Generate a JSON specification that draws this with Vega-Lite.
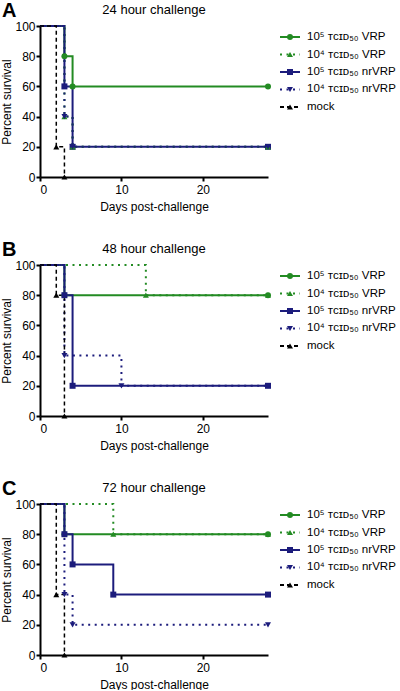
{
  "$schema": "https://vega.github.io/schema/vega-lite/v6.json",
  "padding": {"left": 0, "top": 1, "right": 0, "bottom": 0},
  "background": "white",
  "config": {
    "font": "Liberation Sans",
    "view": {"stroke": null},
    "axis": {"domainColor": "black", "domainWidth": 2, "tickColor": "black", "tickWidth": 2, "tickSize": 4, "labelFontSize": 12, "labelColor": "black", "titleFontSize": 12, "titleFontWeight": "normal", "titleColor": "black", "grid": false, "labelPadding": 1, "titlePadding": 1},
    "axisX": {"labelPadding": 3, "titlePadding": 6},
    "title": {"color": "black"}
  },
  "datasets": {
    "curves": [
      {"panel": "A", "s": "v5", "day": 0, "pct": 100}, {"panel": "A", "s": "v5", "day": 3, "pct": 80}, {"panel": "A", "s": "v5", "day": 4, "pct": 60}, {"panel": "A", "s": "v5", "day": 28, "pct": 60},
      {"panel": "A", "s": "n5", "day": 0, "pct": 100}, {"panel": "A", "s": "n5", "day": 3, "pct": 60}, {"panel": "A", "s": "n5", "day": 4, "pct": 20}, {"panel": "A", "s": "n5", "day": 28, "pct": 20},
      {"panel": "A", "s": "v4", "day": 0, "pct": 100}, {"panel": "A", "s": "v4", "day": 3, "pct": 40}, {"panel": "A", "s": "v4", "day": 4, "pct": 20}, {"panel": "A", "s": "v4", "day": 28, "pct": 20},
      {"panel": "A", "s": "n4", "day": 0, "pct": 100}, {"panel": "A", "s": "n4", "day": 3, "pct": 40}, {"panel": "A", "s": "n4", "day": 4, "pct": 20}, {"panel": "A", "s": "n4", "day": 28, "pct": 20},
      {"panel": "A", "s": "mock", "day": 0, "pct": 100}, {"panel": "A", "s": "mock", "day": 2, "pct": 20}, {"panel": "A", "s": "mock", "day": 3, "pct": 0},

      {"panel": "B", "s": "v5", "day": 0, "pct": 100}, {"panel": "B", "s": "v5", "day": 3, "pct": 80}, {"panel": "B", "s": "v5", "day": 28, "pct": 80},
      {"panel": "B", "s": "n5", "day": 0, "pct": 100}, {"panel": "B", "s": "n5", "day": 3, "pct": 80}, {"panel": "B", "s": "n5", "day": 4, "pct": 20}, {"panel": "B", "s": "n5", "day": 28, "pct": 20},
      {"panel": "B", "s": "v4", "day": 0, "pct": 100}, {"panel": "B", "s": "v4", "day": 13, "pct": 80}, {"panel": "B", "s": "v4", "day": 28, "pct": 80},
      {"panel": "B", "s": "n4", "day": 0, "pct": 100}, {"panel": "B", "s": "n4", "day": 3, "pct": 40}, {"panel": "B", "s": "n4", "day": 10, "pct": 20}, {"panel": "B", "s": "n4", "day": 28, "pct": 20},
      {"panel": "B", "s": "mock", "day": 0, "pct": 100}, {"panel": "B", "s": "mock", "day": 2, "pct": 80}, {"panel": "B", "s": "mock", "day": 3, "pct": 0},

      {"panel": "C", "s": "v5", "day": 0, "pct": 100}, {"panel": "C", "s": "v5", "day": 3, "pct": 80}, {"panel": "C", "s": "v5", "day": 28, "pct": 80},
      {"panel": "C", "s": "n5", "day": 0, "pct": 100}, {"panel": "C", "s": "n5", "day": 3, "pct": 80}, {"panel": "C", "s": "n5", "day": 4, "pct": 60}, {"panel": "C", "s": "n5", "day": 9, "pct": 40}, {"panel": "C", "s": "n5", "day": 28, "pct": 40},
      {"panel": "C", "s": "v4", "day": 0, "pct": 100}, {"panel": "C", "s": "v4", "day": 9, "pct": 80}, {"panel": "C", "s": "v4", "day": 28, "pct": 80},
      {"panel": "C", "s": "n4", "day": 0, "pct": 100}, {"panel": "C", "s": "n4", "day": 3, "pct": 40}, {"panel": "C", "s": "n4", "day": 4, "pct": 20}, {"panel": "C", "s": "n4", "day": 28, "pct": 20},
      {"panel": "C", "s": "mock", "day": 0, "pct": 100}, {"panel": "C", "s": "mock", "day": 2, "pct": 40}, {"panel": "C", "s": "mock", "day": 3, "pct": 0}
    ],
    "legend": [
      {"s": "v5", "label": "10⁵ ᴛᴄɪᴅ₅₀ VRP"},
      {"s": "v4", "label": "10⁴ ᴛᴄɪᴅ₅₀ VRP"},
      {"s": "n5", "label": "10⁵ ᴛᴄɪᴅ₅₀ nrVRP"},
      {"s": "n4", "label": "10⁴ ᴛᴄɪᴅ₅₀ nrVRP"},
      {"s": "mock", "label": "mock"}
    ]
  },
  "spacing": 28,
  "vconcat": [
    {
      "title": {"text": "A", "anchor": "start", "frame": "group", "fontSize": 20, "fontWeight": "bold", "offset": -17, "dx": -38},
      "spacing": 7,
      "hconcat": [
        {
          "width": 228, "height": 151,
          "title": {"text": "24 hour challenge", "fontSize": 13, "fontWeight": "normal", "frame": "group", "anchor": "middle", "offset": 3},
          "data": {"name": "curves"},
          "transform": [{"filter": "datum.panel == 'A'"}],
          "encoding": {
            "x": {"field": "day", "type": "quantitative", "scale": {"domain": [0, 28]}, "axis": {"values": [0, 10, 20], "title": "Days post-challenge"}},
            "y": {"field": "pct", "type": "quantitative", "scale": {"domain": [0, 100]}, "axis": {"values": [0, 20, 40, 60, 80, 100], "title": "Percent survival"}},
            "color": {"field": "s", "type": "nominal", "scale": {"domain": ["v5", "v4", "n5", "n4", "mock"], "range": ["#238b23", "#238b23", "#1c1c7c", "#1c1c7c", "#000000"]}, "legend": null}
          },
          "layer": [
            {"transform": [{"filter": "datum.s != 'mock'"}], "mark": {"type": "line", "interpolate": "step-after", "strokeWidth": 2}, "encoding": {"strokeDash": {"field": "s", "type": "nominal", "scale": {"domain": ["v5", "v4", "n5", "n4", "mock"], "range": [[1, 0], [2, 4.5], [1, 0], [2, 4.5], [4, 3]]}, "legend": null}}},
            {"transform": [{"filter": "datum.s == 'mock'"}], "mark": {"type": "line", "interpolate": "step-after", "strokeWidth": 1.5}, "encoding": {"strokeDash": {"field": "s", "type": "nominal", "legend": null}}},
            {"transform": [{"filter": "datum.day > 0"}], "mark": {"type": "point", "filled": true, "size": 36, "opacity": 1}, "encoding": {"shape": {"field": "s", "type": "nominal", "scale": {"domain": ["v5", "v4", "n5", "n4", "mock"], "range": ["circle", "triangle-up", "square", "triangle-down", "triangle-up"]}, "legend": null}}}
          ]
        },
        {
          "width": 120, "height": 92,
          "data": {"name": "legend"},
          "encoding": {
            "y": {"field": "s", "type": "nominal", "scale": {"type": "point", "domain": ["v5", "v4", "n5", "n4", "mock"], "padding": 0.63}, "axis": null},
            "color": {"field": "s", "type": "nominal", "legend": null}
          },
          "layer": [
            {"mark": {"type": "rule", "strokeWidth": 2}, "encoding": {"x": {"datum": 0, "type": "quantitative", "scale": {"domain": [0, 6]}, "axis": null}, "x2": {"datum": 1}, "strokeDash": {"field": "s", "type": "nominal", "legend": null}}},
            {"mark": {"type": "point", "filled": true, "size": 36, "opacity": 1}, "encoding": {"x": {"datum": 0.5, "type": "quantitative"}, "shape": {"field": "s", "type": "nominal", "legend": null}}},
            {"mark": {"type": "text", "align": "left", "baseline": "middle", "fontSize": 11.5}, "encoding": {"x": {"datum": 1.35, "type": "quantitative"}, "text": {"field": "label"}, "color": {"value": "black"}}}
          ]
        }
      ]
    },
    {
      "title": {"text": "B", "anchor": "start", "frame": "group", "fontSize": 20, "fontWeight": "bold", "offset": -17, "dx": -38},
      "spacing": 7,
      "hconcat": [
        {
          "width": 228, "height": 151,
          "title": {"text": "48 hour challenge", "fontSize": 13, "fontWeight": "normal", "frame": "group", "anchor": "middle", "offset": 3},
          "data": {"name": "curves"},
          "transform": [{"filter": "datum.panel == 'B'"}],
          "encoding": {
            "x": {"field": "day", "type": "quantitative", "scale": {"domain": [0, 28]}, "axis": {"values": [0, 10, 20], "title": "Days post-challenge"}},
            "y": {"field": "pct", "type": "quantitative", "scale": {"domain": [0, 100]}, "axis": {"values": [0, 20, 40, 60, 80, 100], "title": "Percent survival"}},
            "color": {"field": "s", "type": "nominal", "legend": null}
          },
          "layer": [
            {"transform": [{"filter": "datum.s != 'mock'"}], "mark": {"type": "line", "interpolate": "step-after", "strokeWidth": 2}, "encoding": {"strokeDash": {"field": "s", "type": "nominal", "legend": null}}},
            {"transform": [{"filter": "datum.s == 'mock'"}], "mark": {"type": "line", "interpolate": "step-after", "strokeWidth": 1.5}, "encoding": {"strokeDash": {"field": "s", "type": "nominal", "legend": null}}},
            {"transform": [{"filter": "datum.day > 0"}], "mark": {"type": "point", "filled": true, "size": 36, "opacity": 1}, "encoding": {"shape": {"field": "s", "type": "nominal", "legend": null}}}
          ]
        },
        {
          "width": 120, "height": 92,
          "data": {"name": "legend"},
          "encoding": {
            "y": {"field": "s", "type": "nominal", "scale": {"type": "point", "domain": ["v5", "v4", "n5", "n4", "mock"], "padding": 0.63}, "axis": null},
            "color": {"field": "s", "type": "nominal", "legend": null}
          },
          "layer": [
            {"mark": {"type": "rule", "strokeWidth": 2}, "encoding": {"x": {"datum": 0, "type": "quantitative", "scale": {"domain": [0, 6]}, "axis": null}, "x2": {"datum": 1}, "strokeDash": {"field": "s", "type": "nominal", "legend": null}}},
            {"mark": {"type": "point", "filled": true, "size": 36, "opacity": 1}, "encoding": {"x": {"datum": 0.5, "type": "quantitative"}, "shape": {"field": "s", "type": "nominal", "legend": null}}},
            {"mark": {"type": "text", "align": "left", "baseline": "middle", "fontSize": 11.5}, "encoding": {"x": {"datum": 1.35, "type": "quantitative"}, "text": {"field": "label"}, "color": {"value": "black"}}}
          ]
        }
      ]
    },
    {
      "title": {"text": "C", "anchor": "start", "frame": "group", "fontSize": 20, "fontWeight": "bold", "offset": -17, "dx": -38},
      "spacing": 7,
      "hconcat": [
        {
          "width": 228, "height": 151,
          "title": {"text": "72 hour challenge", "fontSize": 13, "fontWeight": "normal", "frame": "group", "anchor": "middle", "offset": 3},
          "data": {"name": "curves"},
          "transform": [{"filter": "datum.panel == 'C'"}],
          "encoding": {
            "x": {"field": "day", "type": "quantitative", "scale": {"domain": [0, 28]}, "axis": {"values": [0, 10, 20], "title": "Days post-challenge"}},
            "y": {"field": "pct", "type": "quantitative", "scale": {"domain": [0, 100]}, "axis": {"values": [0, 20, 40, 60, 80, 100], "title": "Percent survival"}},
            "color": {"field": "s", "type": "nominal", "legend": null}
          },
          "layer": [
            {"transform": [{"filter": "datum.s != 'mock'"}], "mark": {"type": "line", "interpolate": "step-after", "strokeWidth": 2}, "encoding": {"strokeDash": {"field": "s", "type": "nominal", "legend": null}}},
            {"transform": [{"filter": "datum.s == 'mock'"}], "mark": {"type": "line", "interpolate": "step-after", "strokeWidth": 1.5}, "encoding": {"strokeDash": {"field": "s", "type": "nominal", "legend": null}}},
            {"transform": [{"filter": "datum.day > 0"}], "mark": {"type": "point", "filled": true, "size": 36, "opacity": 1}, "encoding": {"shape": {"field": "s", "type": "nominal", "legend": null}}}
          ]
        },
        {
          "width": 120, "height": 92,
          "data": {"name": "legend"},
          "encoding": {
            "y": {"field": "s", "type": "nominal", "scale": {"type": "point", "domain": ["v5", "v4", "n5", "n4", "mock"], "padding": 0.63}, "axis": null},
            "color": {"field": "s", "type": "nominal", "legend": null}
          },
          "layer": [
            {"mark": {"type": "rule", "strokeWidth": 2}, "encoding": {"x": {"datum": 0, "type": "quantitative", "scale": {"domain": [0, 6]}, "axis": null}, "x2": {"datum": 1}, "strokeDash": {"field": "s", "type": "nominal", "legend": null}}},
            {"mark": {"type": "point", "filled": true, "size": 36, "opacity": 1}, "encoding": {"x": {"datum": 0.5, "type": "quantitative"}, "shape": {"field": "s", "type": "nominal", "legend": null}}},
            {"mark": {"type": "text", "align": "left", "baseline": "middle", "fontSize": 11.5}, "encoding": {"x": {"datum": 1.35, "type": "quantitative"}, "text": {"field": "label"}, "color": {"value": "black"}}}
          ]
        }
      ]
    }
  ]
}
